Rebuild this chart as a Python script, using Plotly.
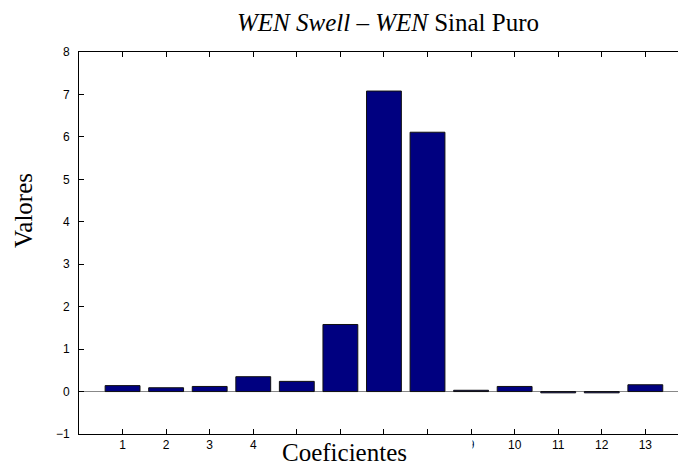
import plotly.graph_objects as go

# coefficient index and value
coeficientes = list(range(1, 14))
valores = [0.14, 0.09, 0.12, 0.35, 0.24, 1.58, 7.08, 6.11, 0.03, 0.12, -0.03, -0.03, 0.16]
y_ticks = list(range(-1, 9))

serif = "Liberation Serif, Times New Roman, serif"
sans = "Liberation Sans, Arial, sans-serif"

fig = go.Figure(go.Bar(
    x=coeficientes,
    y=valores,
    marker=dict(color="#000080", line=dict(color="#111111", width=1)),
    width=0.8,
))

fig.update_layout(
    width=678,
    height=465,
    margin=dict(l=79, r=0, t=52, b=31),
    plot_bgcolor="white",
    paper_bgcolor="white",
    showlegend=False,
    title=dict(
        text="<i>WEN Swell</i> – <i>WEN</i> Sinal Puro",
        font=dict(family=serif, size=25, color="black"),
        x=388 / 678, xanchor="center",
        y=1 - 22 / 465, yanchor="middle",
    ),
    xaxis=dict(
        range=[0, 13.75],
        tickvals=coeficientes,
        ticks="inside",
        ticklen=5,
        tickcolor="black",
        showline=True,
        linecolor="black",
        linewidth=1,
        mirror="ticks",
        showgrid=False,
        zeroline=False,
        tickfont=dict(family=sans, size=12, color="black"),
    ),
    yaxis=dict(
        range=[-1, 8],
        tickvals=y_ticks,
        ticks="inside",
        ticklen=5,
        tickcolor="black",
        showline=True,
        linecolor="black",
        linewidth=1,
        showgrid=False,
        zeroline=True,
        zerolinecolor="#888888",
        zerolinewidth=1,
        tickfont=dict(family=sans, size=12, color="black"),
        ticklabelstandoff=6,
    ),
)

# white patch behind the x label that hides some tick labels, as in the original
fig.add_annotation(
    text=" ", xref="paper", yref="paper",
    x=(367 - 79) / 599, y=-17 / 382,
    xanchor="center", yanchor="middle",
    showarrow=False, width=210, height=30,
    bgcolor="white", borderpad=0,
)
fig.add_annotation(
    text="Coeficientes", xref="paper", yref="paper",
    x=(344 - 79) / 599, y=-18 / 382,
    xanchor="center", yanchor="middle",
    showarrow=False,
    font=dict(family=serif, size=25, color="black"),
)
fig.add_annotation(
    text="Valores", xref="paper", yref="paper",
    x=-56 / 599, y=(434 - 211) / 382,
    xanchor="center", yanchor="middle",
    textangle=-90, showarrow=False,
    font=dict(family=serif, size=25, color="black"),
)

# drop the default page margin so the figure sits at the window corner
fig.write_html(
    "out.html",
    config={"displayModeBar": False},
    post_script="document.body.style.margin='0';",
)
